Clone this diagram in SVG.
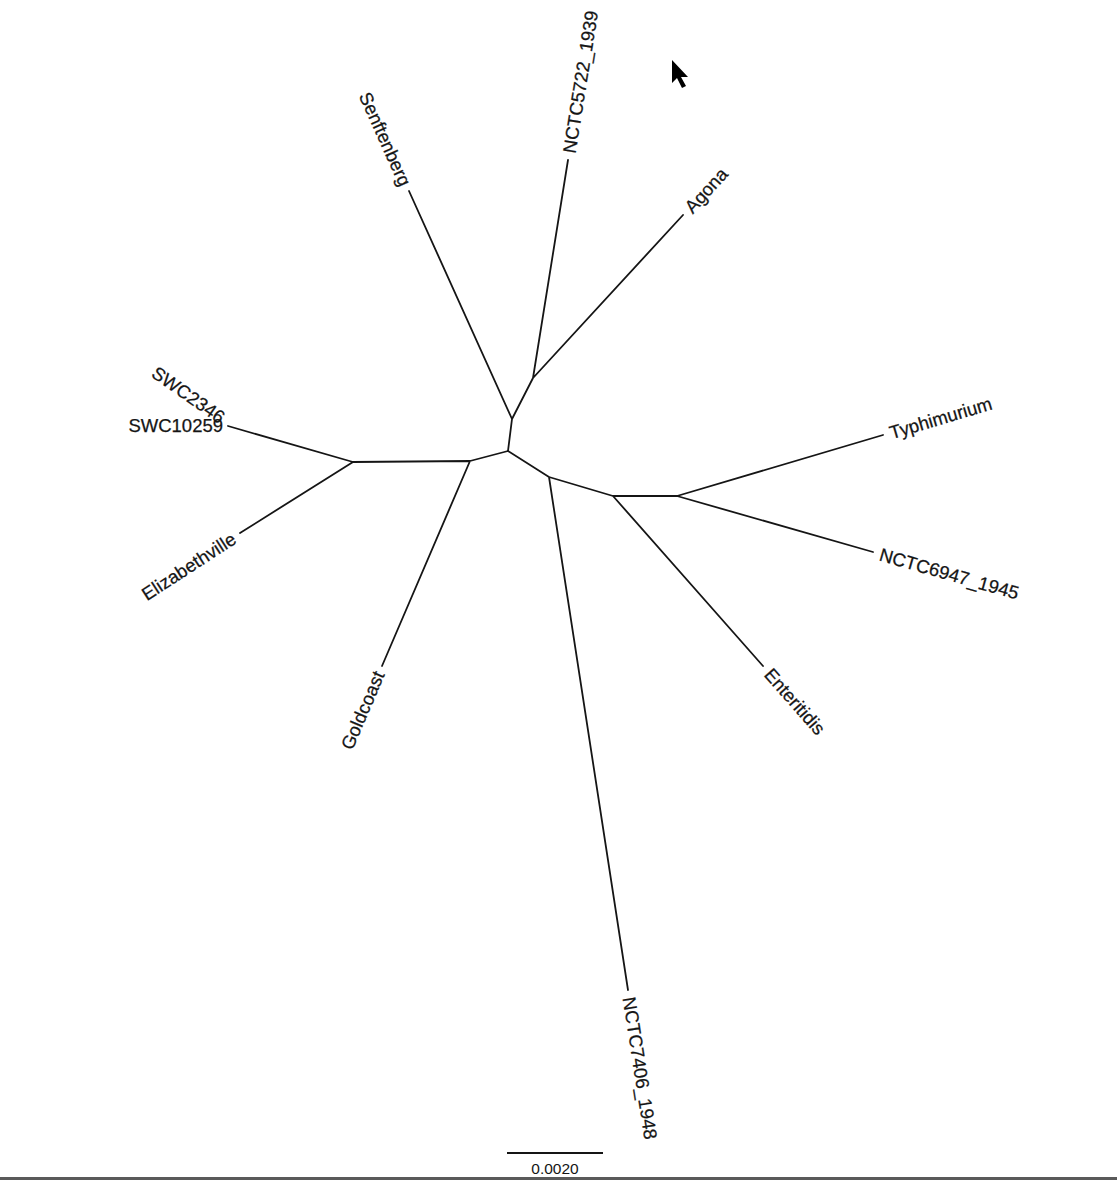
<svg xmlns="http://www.w3.org/2000/svg" width="1117" height="1180" viewBox="0 0 1117 1180">
<style>
.br{stroke:#151515;stroke-width:1.8;fill:none;stroke-linecap:round}
.lb{font-family:"Liberation Sans",Arial,Helvetica,sans-serif;font-size:18.5px;fill:#151515;stroke:#151515;stroke-width:0.25}
.sc{font-family:"Liberation Sans",Arial,Helvetica,sans-serif;font-size:15.5px;fill:#151515}
</style>
<rect x="0" y="0" width="1117" height="1180" fill="#ffffff"/>
<g id="connectors">
<path class="br" d="M508,451 L512,419 M512,419 L409,191 M512,419 L533,378 M533,378 L568,160 M533,378 L683,215"/>
<path class="br" d="M508,451 L470,461 M470,461 L382,666 M470,461 L353,462 M353,462 L228,426 M353,462 L240,533"/>
<path class="br" d="M508,451 L549,477 M549,477 L628,990 M549,477 L613,496 M613,496 L763,666 M613,496 L677,496 M677,496 L883,435 M677,496 L873,552"/>
</g>
<g id="node-senftenberg"><text class="lb" text-anchor="end" dy="0.35em" transform="translate(406,185) rotate(65.7)">Senftenberg</text></g>
<g id="node-nctc5722"><text class="lb" dy="0.35em" transform="translate(569,153) rotate(-80.9)">NCTC5722_1939</text></g>
<g id="node-agona"><text class="lb" dy="0.35em" transform="translate(688,210) rotate(-47.4)">Agona</text></g>
<g id="node-typhimurium"><text class="lb" dy="0.35em" transform="translate(890,433) rotate(-16.5)">Typhimurium</text></g>
<g id="node-nctc6947"><text class="lb" dy="0.35em" transform="translate(880,554) rotate(15.9)">NCTC6947_1945</text></g>
<g id="node-enteritidis"><text class="lb" dy="0.35em" transform="translate(768,671) rotate(48.6)">Enteritidis</text></g>
<g id="node-nctc7406"><text class="lb" dy="0.35em" transform="translate(629,997) rotate(81.2)">NCTC7406_1948</text></g>
<g id="node-goldcoast"><text class="lb" text-anchor="end" dy="0.35em" transform="translate(379,672) rotate(-66.8)">Goldcoast</text></g>
<g id="node-elizabethville"><text class="lb" text-anchor="end" dy="0.35em" transform="translate(234,537) rotate(-33)">Elizabethville</text></g>
<g id="node-swc10259"><text class="lb" text-anchor="end" dy="0.35em" transform="translate(223,426)">SWC10259</text></g>
<g id="node-swc2346"><text class="lb" text-anchor="end" dy="0.35em" transform="translate(223,419) rotate(35)">SWC2346</text></g>
<g id="scale-bar">
<line x1="507" y1="1153" x2="603" y2="1153" stroke="#151515" stroke-width="1.8"/>
<text class="sc" x="555" y="1174" text-anchor="middle">0.0020</text>
</g>
<rect x="0" y="1177" width="1117" height="3" fill="#5a5a5a"/>
<polygon points="672,60 672,83 677,78 682,88 686,86 681,77 688,77" fill="#000"/>
</svg>
